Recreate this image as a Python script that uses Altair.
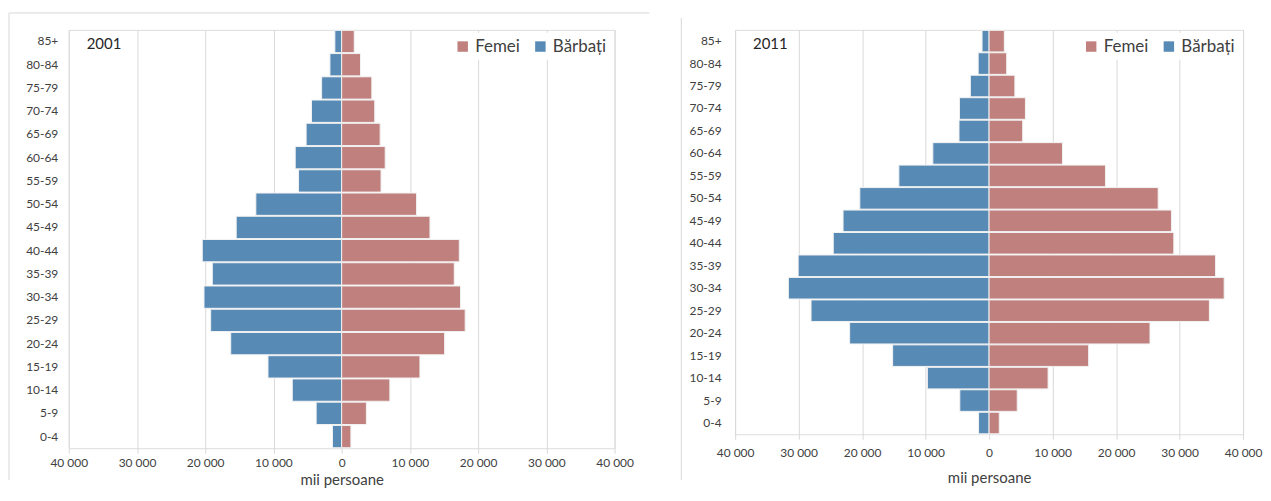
import altair as alt
import pandas as pd

age_groups = ["85+", "80-84", "75-79", "70-74", "65-69", "60-64", "55-59", "50-54", "45-49",
              "40-44", "35-39", "30-34", "25-29", "20-24", "15-19", "10-14", "5-9", "0-4"]
years = ["2001", "2011"]
sexes = ["Femei", "Bărbați"]
sex_colors = ["#c0807e", "#578ab5"]

men_2001 = [1000, 1720, 2940, 4420, 5210, 6810, 6320, 12580, 15460, 20430, 18960, 20180,
            19200, 16260, 10800, 7240, 3740, 1350]
women_2001 = [1840, 2760, 4420, 4850, 5640, 6380, 5770, 10980, 12940, 17240, 16500, 17420,
              18100, 15090, 11470, 7060, 3620, 1350]
men_2011 = [1110, 1720, 2950, 4670, 4740, 8860, 14210, 20360, 23000, 24540, 30070, 31610,
            28040, 21960, 15190, 9720, 4610, 1660]
women_2011 = [2400, 2770, 4060, 5720, 5290, 11560, 18330, 26630, 28720, 29090, 35670, 37020,
              34690, 25340, 15680, 9290, 4430, 1600]

tick_values = [-40000, -30000, -20000, -10000, 0, 10000, 20000, 30000, 40000]
x_title = "mii persoane"

FONT = "Lato, Liberation Sans, sans-serif"
GRID = "#d9d9d9"
TXT = "#404040"


def make_df(men, women):
    rows = []
    for a, m, w in zip(age_groups, men, women):
        rows.append({"age": a, "sex": "Bărbați", "value": m})
        rows.append({"age": a, "sex": "Femei", "value": w})
    return pd.DataFrame(rows)


def panel(year, men, women, width, height, yext, ylab_pad, lab_pad, title_pad, frame):
    base = alt.Chart(make_df(men, women)).transform_calculate(
        signed="datum.sex == 'Bărbați' ? -datum.value : datum.value"
    )
    bars = base.mark_bar(stroke="#f2f2f2", strokeWidth=1).encode(
        x=alt.X("signed:Q",
                scale=alt.Scale(domain=[-40000, 40000], nice=False),
                axis=alt.Axis(values=tick_values, title=x_title, grid=True, gridColor=GRID,
                              domain=False, tickColor=GRID, tickSize=5, labelFlush=False,
                              labelOverlap=False,
                              labelExpr="replace(format(abs(datum.value), ','), ',', ' ')",
                              labelFont=FONT, labelFontSize=12, labelColor=TXT,
                              labelPadding=lab_pad, titlePadding=title_pad,
                              titleFont=FONT, titleFontSize=15, titleFontWeight="normal",
                              titleColor=TXT)),
        y=alt.Y("age:N", sort=age_groups,
                scale=alt.Scale(paddingInner=0.04, paddingOuter=0.02),
                axis=alt.Axis(title=None, ticks=False, domain=False, labelPadding=ylab_pad,
                              minExtent=yext, maxExtent=yext, labelFont=FONT,
                              labelFontSize=12, labelColor=TXT)),
        color=alt.Color("sex:N",
                        scale=alt.Scale(domain=sexes, range=sex_colors),
                        legend=alt.Legend(title=None, orient="top-right", direction="horizontal",
                                          offset=3, padding=5, fillColor="white",
                                          symbolType="square", symbolSize=110,
                                          symbolStrokeWidth=0, labelFont=FONT,
                                          labelFontSize=17, labelColor=TXT,
                                          columnPadding=12, labelOffset=4)),
        order=alt.Order("sex:N"),
    )
    year_text = alt.Chart(pd.DataFrame({"year": [year]})).mark_text(
        align="left", baseline="middle", font=FONT, fontSize=15, color="#262626"
    ).encode(text="year:N", x=alt.value(18), y=alt.value(14))

    frame_df = alt.Chart(pd.DataFrame({"k": [0]}))
    layers = [bars, year_text]
    fx, fy, fy2, fx2 = frame
    layers.append(frame_df.mark_rule(color="#d9d9d9", strokeWidth=1).encode(
        x=alt.value(fx), y=alt.value(fy), y2=alt.value(fy2)))
    if fx2 is not None:
        layers.append(frame_df.mark_rule(color="#d9d9d9", strokeWidth=1).encode(
            x=alt.value(fx), x2=alt.value(fx2), y=alt.value(fy)))
    return alt.layer(*layers).properties(width=width, height=height)


left = panel(years[0], men_2001, women_2001, 548, 420, 60, 11, 4, 4, (-60, -17, 452, 583))
right = panel(years[1], men_2011, women_2011, 510, 406, 54, 14, 8, 12, (-54, -12, 452, None))

chart = alt.hconcat(left, right, spacing=30).resolve_legend(color="independent").properties(
    padding={"left": 0, "top": 3, "right": 0, "bottom": 0}
).configure_view(stroke=None).configure(font=FONT)

chart.save("out.html", embed_options={"renderer": "svg", "actions": False})
